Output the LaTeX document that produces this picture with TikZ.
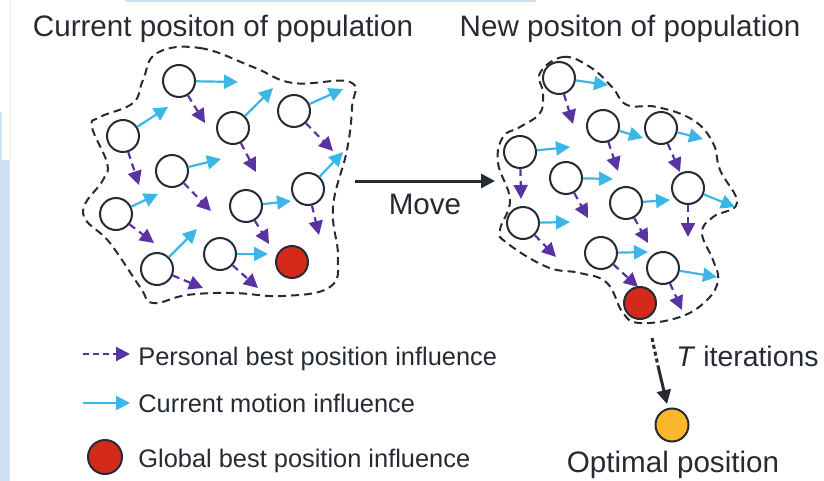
\documentclass[tikz,border=0pt]{standalone}
\usepackage{fontspec}
\setmainfont{Liberation Sans}
\usetikzlibrary{arrows.meta,positioning}

\definecolor{pbest}{HTML}{5A33A3}
\definecolor{motion}{HTML}{3CB6E6}
\definecolor{gbest}{HTML}{D32A1C}
\definecolor{optim}{HTML}{FCB72C}
\definecolor{ink}{HTML}{262B33}
\definecolor{strip}{HTML}{CFE1F0}

\tikzset{
  particle/.style={circle,draw=ink,line width=1pt,minimum size=16pt,inner sep=0pt,fill=white},
  gbestdot/.style={particle,fill=gbest},
  optdot/.style={particle,fill=optim,minimum size=16.5pt},
  pbestarr/.style={pbest,line width=1.1pt,dash pattern=on 3.5pt off 2.5pt,-{Triangle[length=7pt,width=7pt]}},
  motionarr/.style={motion,line width=1.1pt,-{Triangle[length=7pt,width=7pt]}},
  swarm/.style={ink,line width=1pt,dash pattern=on 4pt off 2.5pt},
  movearr/.style={ink,line width=1.5pt,-{Triangle[length=7pt,width=7pt]}},
  lbl/.style={text=ink,font=\fontsize{14.8}{17}\selectfont},
  legend/.style={text=ink,font=\fontsize{12.7}{15}\selectfont,anchor=base west,inner sep=0pt},
}

\begin{document}
\begin{tikzpicture}[x=0.5pt,y=-0.5pt]
  \useasboundingbox (0,0) rectangle (824,481);
  % page edge
  \fill[strip] (0,160) rectangle (10,481);
  \fill[strip] (0,112) rectangle (1.5,160);
  \fill[strip] (125,0) rectangle (536,2);
  \draw[gray!15,line width=0.4pt] (10.5,0) -- (10.5,160);

  \node[lbl,anchor=base] (ttlL) at (223,37) {Current positon of population};
  \node[lbl,anchor=base] (ttlR) at (630,37) {New positon of population};

  % swarm outlines
  \draw[swarm] plot[smooth cycle,tension=0.7] coordinates {
    (157,53) (200,48) (253,67) (293,83) (350,82) (352,107) (347,150)
    (333,207) (338,257) (330,287) (283,296) (233,293) (187,295) (153,303)
    (140,287) (110,243) (83,213) (103,180) (107,163) (92,127) (100,117)
    (133,103) (143,80)};
  \draw[swarm] plot[smooth cycle,tension=0.7] coordinates {
    (540,73) (563,57) (590,67) (612,87) (627,105) (657,107) (693,120)
    (713,143) (720,170) (737,203) (713,217) (702,233) (713,260) (718,280)
    (707,300) (680,317) (640,323) (623,313) (607,283) (580,273) (547,267)
    (507,243) (500,230) (510,200) (498,163) (503,137) (520,127) (540,113)
    (543,93)};

  % current particles
  \foreach \n/\cx/\cy/\mx/\my/\px/\py in {
    1/179/81/238/82/205/123, 2/123/136/168/107/139/185,
    3/233/128/273/88/256/172, 4/294/111/343/89/333/151,
    5/172/171/221/159/211/211, 6/116/214/158/194/154/243,
    7/246/206/291/201/269/244, 8/308/189/343/152/319/235,
    9/157/269/197/229/203/288, 10/220/254/268/254/258/288} {
    \node[particle] (l\n) at (\cx,\cy) {};
    \coordinate (lm\n) at (\mx,\my);
    \coordinate (lp\n) at (\px,\py);
    \draw[motionarr] (l\n) -- (lm\n);
    \draw[pbestarr] (l\n) -- (lp\n);
  }
  \node[gbestdot] (lg) at (292,262) {};

  % new particles
  \foreach \n/\cx/\cy/\mx/\my/\px/\py in {
    1/559/78/608/85/573/124, 2/603/126/643/138/618/171,
    3/661/128/703/139/680/172, 4/520/152/570/147/521/199,
    5/566/178/613/179/588/218, 6/626/203/670/200/648/243,
    7/688/188/735/207/688/237, 8/523/223/570/222/556/257,
    9/601/253/648/252/638/287, 10/663/268/717/277/682/310} {
    \node[particle] (r\n) at (\cx,\cy) {};
    \coordinate (rm\n) at (\mx,\my);
    \coordinate (rp\n) at (\px,\py);
    \draw[motionarr] (r\n) -- (rm\n);
    \draw[pbestarr] (r\n) -- (rp\n);
  }
  \node[gbestdot] (rg) at (640,303) {};

  % move step
  \coordinate (mv0) at (355,181);
  \coordinate (mv1) at (495,181);
  \draw[movearr] (mv0) -- (mv1) node[midway,below=2.5pt,lbl] (mvtxt) {Move};

  % iterations
  \coordinate (it0) at (652,338);
  \coordinate (it1) at (658,366);
  \node[optdot] (opt) at (672,425) {};
  \draw[ink,line width=1.5pt,dash pattern=on 2pt off 1.5pt] (it0) -- (it1);
  \draw[movearr,shorten >=2pt] (it1) -- (opt);
  \node[lbl,anchor=base west,inner sep=0pt,font=\fontsize{14.2}{17}\selectfont] (itxt) at (676,366) {\textit{T} iterations};
  \node[lbl,anchor=base] (opttxt) at (673,472) {Optimal position};

  % legend
  \coordinate (kp0) at (83,354);
  \coordinate (kp1) at (130,354);
  \draw[pbestarr,dash pattern=on 3pt off 2pt] (kp0) -- (kp1);
  \node[legend] (kptxt) at (138,365) {Personal best position influence};
  \coordinate (km0) at (83,403);
  \coordinate (km1) at (130,403);
  \draw[motionarr] (km0) -- (km1);
  \node[legend] (kmtxt) at (138,412) {Current motion influence};
  \node[gbestdot,minimum size=17pt] (kg) at (105,457) {};
  \node[legend] (kgtxt) at (138,467) {Global best position influence};
\end{tikzpicture}
\end{document}
